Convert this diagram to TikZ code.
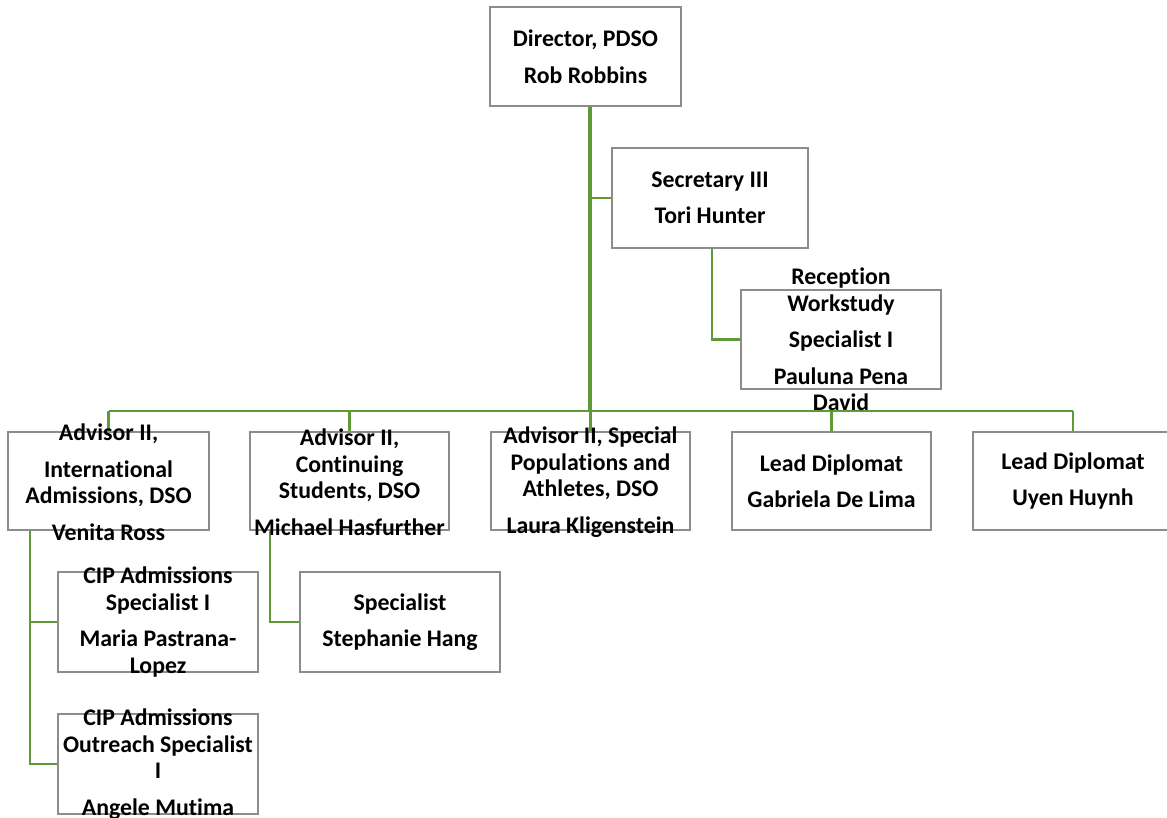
\documentclass[tikz,border=0pt]{standalone}
\usepackage{fontspec}
\setmainfont{Carlito}[Ligatures={NoCommon}]
\definecolor{lnk}{RGB}{96,154,56}
\definecolor{bord}{RGB}{140,140,140}
\tikzset{
  obox/.style={draw=bord, line width=1.4pt, fill=white, inner sep=0pt},
  otext/.style={inner sep=0pt, align=center, font=\fontsize{23.8}{26.5}\selectfont\bfseries},
  link/.style={draw=lnk, line width=2.4pt},
  trunk/.style={draw=lnk, line width=3.2pt},
}
\newcommand{\orgbox}[6]{%
  \node[obox, minimum width={(#4)-(#2)}, minimum height={(#5)-(#3)}] (#1) at ({((#2)+(#4))/2},{((#3)+(#5))/2}) {};
  \node[otext] (#1t) at (#1.center) {#6};
}
\begin{document}
\begin{tikzpicture}[x=1pt,y=-1pt]
\useasboundingbox (0,0) rectangle (1167,818);
% connectors first
\coordinate (t0) at (590,106);
\coordinate (bus) at (590,411);
\coordinate (sx) at (712,248);
\coordinate (v1) at (30,530);
\coordinate (v2) at (270,530);
\draw[trunk] (t0) -- (bus);
\draw[link] (t0 |- 0,198) -- (612,198);
\draw[link] (sx) |- (741,339.5);
\draw[link] (108.5,411) -- (1073,411);
\foreach \x in {108.5,349.5,590.5,831.5,1073} \draw[link] (\x,411) -- (\x,432);
\draw[link] (v1) |- (58,764);
\draw[link] (30,622) -- (58,622);
\draw[link] (v2) |- (300,622);
% boxes
\orgbox{dir}{490}{7}{681}{106}{Director, PDSO\\[10pt]Rob Robbins}
\orgbox{sec}{612}{148}{808}{248}{Secretary III\\[10pt]Tori Hunter}
\orgbox{rec}{741}{290}{941}{389}{}
\node[otext] at (841,339.5) {Reception\\Workstudy\\[10pt]Specialist I\\[10pt]Pauluna Pena\\David};
\orgbox{a1}{8}{432}{209}{530}{}
\node[otext] at (108.5,482) {Advisor II,\\[10pt]International\\Admissions, DSO\\[10pt]Venita Ross};
\orgbox{a2}{250}{432}{449}{530}{}
\node[otext] at (349.5,482) {Advisor II,\\Continuing\\Students, DSO\\[10pt]Michael Hasfurther};
\orgbox{a3}{491}{432}{690}{530}{}
\node[otext] at (590.5,482) {Advisor II, Special\\Populations and\\Athletes, DSO\\[10pt]Laura Kligenstein};
\orgbox{l1}{732}{432}{931}{530}{Lead Diplomat\\[10pt]Gabriela De Lima}
\orgbox{l2}{973}{432}{1173}{530}{Lead Diplomat\\[10pt]Uyen Huynh}
\orgbox{c1}{58}{572}{258}{672}{}
\node[otext] at (158,622) {CIP Admissions\\Specialist I\\[10pt]Maria Pastrana-\\Lopez};
\orgbox{c2}{58}{714}{258}{814}{}
\node[otext] at (158,764) {CIP Admissions\\Outreach Specialist\\I\\[10pt]Angele Mutima};
\orgbox{sp}{300}{572}{500}{672}{Specialist\\[10pt]Stephanie Hang}
\end{tikzpicture}
\end{document}
